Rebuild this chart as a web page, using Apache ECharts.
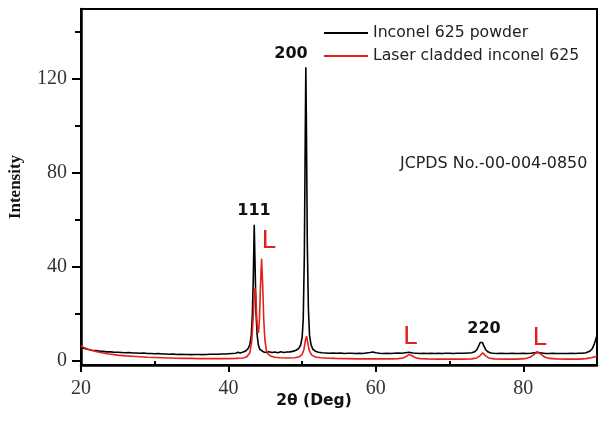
<!DOCTYPE html>
<html>
<head>
<meta charset="utf-8">
<script src="https://cdn.jsdelivr.net/npm/echarts@6/dist/echarts.min.js"></script>
<style>html,body{margin:0;padding:0;background:#fff;}#c{width:602px;height:421px;}</style>
</head>
<body>
<div id="c"></div>
<script>
// Inconel 625 powder XRD pattern [2θ, intensity]
var powderData = [
  [20,5.8],[20.5,5.3],[21,4.9],[21.5,4.6],[22,4.4],[22.5,4.2],[23,4.1],[23.5,3.9],[24,3.9],[24.5,3.7],
  [25,3.7],[25.5,3.6],[26,3.5],[26.5,3.6],[27,3.4],[27.5,3.4],[28,3.3],[28.5,3.4],[29,3.2],[29.5,3.2],
  [30,3.1],[30.5,3.2],[31,3.0],[31.5,3.0],[32,2.9],[32.5,3.0],[33,2.8],[33.5,2.9],[34,2.8],[34.5,2.8],
  [35,2.7],[35.5,2.8],[36,2.8],[36.5,2.7],[37,2.8],[37.5,2.9],[38,2.9],[38.5,2.9],[39,3.0],[39.5,3.0],
  [40,3.1],[40.5,3.2],[41,3.3],[41.3,3.7],[41.6,3.4],[42,3.8],[42.4,4.4],[42.7,5.4],[42.9,7],[43.1,11],
  [43.25,20],[43.38,36],[43.5,58],[43.62,40],[43.75,20],[43.9,11],[44.05,7],[44.25,5],[44.5,4.2],[44.8,3.8],
  [45.1,3.6],[45.5,3.9],[45.9,3.6],[46.3,3.8],[46.7,3.5],[47.1,3.9],[47.5,3.6],[47.9,3.8],[48.3,3.9],[48.7,4.1],
  [49.1,4.5],[49.5,5.2],[49.8,6.8],[50.0,10],[50.15,18],[50.3,45],[50.42,95],[50.5,125],[50.58,100],[50.7,50],
  [50.85,22],[51.0,11],[51.2,7],[51.45,5],[51.8,4.2],[52.2,3.7],[52.7,3.5],[53.2,3.4],[53.7,3.3],[54.2,3.4],
  [54.7,3.3],[55.2,3.4],[55.7,3.2],[56.2,3.3],[56.7,3.3],[57.2,3.2],[57.7,3.3],[58.2,3.2],[58.7,3.4],[59.2,3.6],
  [59.6,3.8],[60.0,3.5],[60.5,3.3],[61,3.2],[61.5,3.3],[62,3.2],[62.5,3.3],[63,3.4],[63.5,3.3],[64,3.5],
  [64.5,3.7],[65,3.4],[65.5,3.3],[66,3.2],[66.5,3.3],[67,3.2],[67.5,3.3],[68,3.2],[68.5,3.3],[69,3.2],
  [69.5,3.3],[70,3.3],[70.5,3.2],[71,3.3],[71.5,3.3],[72,3.3],[72.5,3.4],[73,3.5],[73.4,3.9],[73.7,4.8],
  [73.95,6.4],[74.15,7.9],[74.3,8.5],[74.45,7.9],[74.65,6.4],[74.9,4.8],[75.2,3.9],[75.6,3.4],[76,3.3],[76.5,3.2],
  [77,3.3],[77.5,3.2],[78,3.2],[78.5,3.3],[79,3.2],[79.5,3.2],[80,3.3],[80.5,3.2],[81,3.3],[81.5,3.5],
  [82,3.6],[82.5,3.4],[83,3.2],[83.5,3.2],[84,3.3],[84.5,3.2],[85,3.2],[85.5,3.2],[86,3.2],[86.5,3.3],
  [87,3.2],[87.5,3.3],[88,3.3],[88.5,3.5],[89,4.1],[89.3,5],[89.55,6.5],[89.8,8.8],[90,11]
];
// Laser cladded Inconel 625 XRD pattern [2θ, intensity]
var claddedData = [
  [20,6.4],[20.5,5.6],[21,5.0],[21.5,4.5],[22,4.1],[22.5,3.7],[23,3.4],[23.5,3.1],[24,2.9],[24.5,2.7],
  [25,2.5],[26,2.2],[27,2.0],[28,1.8],[29,1.6],[30,1.5],[31,1.4],[32,1.3],[33,1.2],[34,1.1],
  [35,1.1],[36,1.0],[37,1.0],[38,1.0],[39,1.0],[40,1.0],[41,1.1],[42,1.3],[42.5,1.8],[42.9,3.5],
  [43.15,8],[43.35,18],[43.5,27],[43.6,31],[43.72,27],[43.85,18],[43.97,13],[44.08,12],[44.2,17],[44.35,32],
  [44.5,43.5],[44.65,32],[44.8,17],[44.95,9],[45.15,4.5],[45.4,2.8],[45.8,2.0],[46.3,1.6],[47,1.4],[48,1.3],
  [49,1.4],[49.6,1.8],[50.0,2.8],[50.25,5],[50.45,9],[50.6,10.6],[50.75,8],[50.95,4.5],[51.3,2.5],[51.8,1.7],
  [52.5,1.4],[53.5,1.2],[54.5,1.1],[56,1.0],[57.5,0.9],[59,0.9],[60.5,0.9],[62,0.9],[63,1.0],[63.7,1.3],
  [64.1,1.9],[64.5,2.8],[64.9,2.2],[65.4,1.4],[66,1.0],[67,0.9],[68.5,0.8],[70,0.8],[71.5,0.8],[73,0.9],
  [73.7,1.3],[74.1,2.2],[74.5,3.5],[74.9,2.2],[75.3,1.3],[76,0.9],[77.5,0.8],[79,0.8],[80.2,1.0],[80.9,1.6],
  [81.4,2.6],[81.9,4.0],[82.4,2.8],[82.9,1.7],[83.5,1.1],[84.5,0.9],[86,0.8],[87.5,0.8],[88.5,1.0],[89.2,1.4],
  [89.6,1.7],[90,2.0]
];
var seriesNames = ['Inconel 625 powder', 'Laser cladded inconel 625'];
var yLabelValues = [0, 40, 80, 120];
var yMinorTicks = [20, 60, 100, 140];
var xLabelValues = [20, 40, 60, 80];
var xMinorTicks = [30, 50, 70];
// peak annotations: [2θ, intensity, text]
var hklLabels = [[43.47, 64.0, '111'], [48.49, 130.9, '200'], [74.67, 13.6, '220']];
var lLabels = [[45.44, 50.8, 'L'], [64.63, 9.8, 'L'], [82.2, 9.6, 'L']];

var chart = echarts.init(document.getElementById('c'), null, {renderer: 'canvas'});
var serifFont = '"Liberation Serif", "DejaVu Serif", serif';
var sansFont = '"DejaVu Sans", Verdana, sans-serif';
var yMin = -1.7, yMax = 149.8;

function mk(arr, color, size, weight) {
  return {
    symbol: 'circle', symbolSize: 1, silent: true,
    itemStyle: {color: 'rgba(0,0,0,0)'},
    label: {show: true, position: 'inside', formatter: '{b}', color: color,
            fontFamily: sansFont, fontSize: size, fontWeight: weight},
    data: arr.map(function (a) { return {name: a[2], coord: [a[0], a[1]]}; })
  };
}

chart.setOption({
  animation: false,
  backgroundColor: '#fff',
  grid: {left: 81, right: 5, top: 9, bottom: 56, show: true, borderColor: '#000', borderWidth: 2,
         containLabel: false, outerBoundsMode: 'none'},
  legend: {
    data: seriesNames, orient: 'vertical', left: 319, top: 19,
    icon: 'rect', itemWidth: 44, itemHeight: 2, itemGap: 5, padding: 5,
    textStyle: {fontFamily: sansFont, fontSize: 15.7, color: '#222', lineHeight: 18}
  },
  graphic: [{
    type: 'text', left: 400, top: 156,
    style: {text: 'JCPDS No.-00-004-0850', fontFamily: sansFont, fontSize: 15.9, fill: '#222'}
  }],
  xAxis: [{
    type: 'value', min: 20, max: 90,
    name: '2θ (Deg)', nameLocation: 'middle', nameGap: 28, nameMoveOverlap: false,
    nameTextStyle: {fontFamily: sansFont, fontWeight: 'bold', fontSize: 15.5, color: '#111', padding: [0, 50, 0, 0]},
    axisLine: {show: true, onZero: false, lineStyle: {color: '#000', width: 2.5}},
    axisTick: {show: true, customValues: xLabelValues, length: 7, lineStyle: {color: '#000', width: 2}},
    axisLabel: {customValues: xLabelValues, margin: 14, fontFamily: serifFont, fontSize: 20, color: '#333'},
    splitLine: {show: false}
  }, {
    type: 'value', min: 20, max: 90, position: 'bottom', gridIndex: 0,
    axisLine: {show: false},
    axisTick: {show: true, customValues: xMinorTicks, length: 4, lineStyle: {color: '#000', width: 2}},
    axisLabel: {show: false}, splitLine: {show: false}
  }],
  yAxis: [{
    type: 'value', min: yMin, max: yMax,
    name: 'Intensity', nameLocation: 'middle', nameGap: 57, nameMoveOverlap: false,
    nameTextStyle: {fontFamily: serifFont, fontWeight: 'bold', fontSize: 17, color: '#111'},
    axisLine: {show: true, onZero: false, lineStyle: {color: '#000', width: 2.5}},
    axisTick: {show: true, customValues: yLabelValues, length: 9, lineStyle: {color: '#000', width: 2}},
    axisLabel: {customValues: yLabelValues, margin: 14, fontFamily: serifFont, fontSize: 20, color: '#333'},
    splitLine: {show: false}
  }, {
    type: 'value', min: yMin, max: yMax, position: 'left', gridIndex: 0,
    axisLine: {show: false},
    axisTick: {show: true, customValues: yMinorTicks, length: 6, lineStyle: {color: '#000', width: 2}},
    axisLabel: {show: false}, splitLine: {show: false}
  }],
  series: [{
    name: seriesNames[0], type: 'line', data: powderData, symbol: 'none', smooth: false,
    lineStyle: {color: '#000', width: 1.6}, itemStyle: {color: '#000'}, z: 3,
    markPoint: mk(hklLabels, '#111', 16, 'bold')
  }, {
    name: seriesNames[1], type: 'line', data: claddedData, symbol: 'none', smooth: false,
    lineStyle: {color: '#e3211c', width: 1.6}, itemStyle: {color: '#e3211c'}, z: 4,
    markPoint: mk(lLabels, '#e3211c', 25, 'normal')
  }]
});
</script>
</body>
</html>
